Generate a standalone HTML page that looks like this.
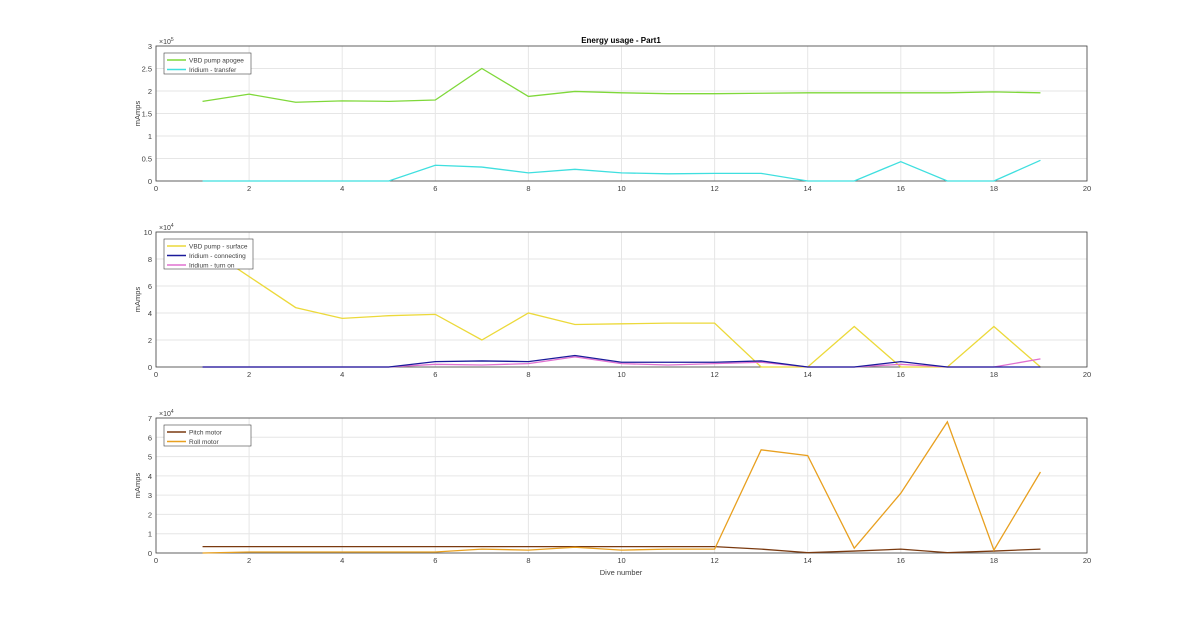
<!DOCTYPE html>
<html><head><meta charset="utf-8"><style>
body{margin:0;background:#fff;}
svg{display:block;font-family:"Liberation Sans",sans-serif;}
</style></head><body>
<svg id="c" width="1200" height="622"></svg>
<script>
const dives=[1,2,3,4,5,6,7,8,9,10,11,12,13,14,15,16,17,18,19];
const vbdApogee=[1.77,1.93,1.75,1.78,1.77,1.80,2.5,1.88,1.99,1.96,1.94,1.94,1.95,1.96,1.96,1.96,1.96,1.98,1.96];
const iridiumTransfer=[0,0,0,0,0,0.35,0.31,0.18,0.26,0.18,0.16,0.17,0.17,0,0,0.43,0,0,0.46];
const vbdSurface=[9,6.7,4.4,3.6,3.8,3.9,2.0,4.0,3.15,3.2,3.25,3.25,0,0,3.0,0,0,3.0,0];
const iridiumConnecting=[0,0,0,0,0,0.4,0.45,0.4,0.85,0.35,0.35,0.35,0.45,0,0,0.4,0,0,0];
const iridiumTurnOn=[0,0,0,0,0,0.2,0.15,0.25,0.75,0.25,0.15,0.25,0.35,0,0,0.2,0,0,0.6];
const pitchMotor=[0.33,0.33,0.33,0.33,0.33,0.33,0.33,0.33,0.33,0.33,0.33,0.33,0.2,0.02,0.1,0.2,0.02,0.1,0.2];
const rollMotor=[0,0.05,0.05,0.05,0.05,0.05,0.2,0.15,0.3,0.15,0.2,0.2,5.35,5.05,0.25,3.1,6.8,0.15,4.2];
const xTicks=[0,2,4,6,8,10,12,14,16,18,20];
const yTicks1=[0,0.5,1,1.5,2,2.5,3];
const yTicks2=[0,2,4,6,8,10];
const yTicks3=[0,1,2,3,4,5,6,7];

const NS="http://www.w3.org/2000/svg";
const svg=document.getElementById('c');
const X0=156,X1=1087;
const sx=v=>X0+(v-0)/20*(X1-X0);
function el(tag,attrs,parent){const e=document.createElementNS(NS,tag);for(const k in attrs)e.setAttribute(k,attrs[k]);(parent||svg).appendChild(e);return e;}
function txt(x,y,s,attrs){const t=el('text',Object.assign({x:x,y:y,'font-size':7.5,fill:'#404040'},attrs||{}));t.textContent=s;return t;}

function panel(name,top,bot,ymax,yt,exp,series,legendItems,legendH){
  const g=el('g',{});
  
  
  const sy=v=>bot-v/ymax*(bot-top);
  el('rect',{x:X0,y:top,width:X1-X0,height:bot-top,fill:'#fff'},g);
  xTicks.forEach(t=>{const l=el('line',{x1:sx(t),x2:sx(t),y1:top,y2:bot,stroke:'#e6e6e6','stroke-width':1},g);
    });
  yt.forEach(t=>{const l=el('line',{x1:X0,x2:X1,y1:sy(t),y2:sy(t),stroke:'#e6e6e6','stroke-width':1},g);
    });
  el('rect',{x:X0,y:top,width:X1-X0,height:bot-top,fill:'none',stroke:'#404040','stroke-width':0.8},g);
  xTicks.forEach(t=>{const s=txt(sx(t),bot+10,String(t),{'text-anchor':'middle'});g.appendChild(s);});
  yt.forEach(t=>{const s=txt(X0-4,sy(t)+3,String(t),{'text-anchor':'end'});g.appendChild(s);});
  const e=txt(X0+3,top-2,'\u00d710',{'font-size':7});
  const es=el('tspan',{dy:-3,'font-size':5});es.textContent=exp;e.appendChild(es);g.appendChild(e);
  const yl=txt(0,0,'mAmps',{'text-anchor':'middle',transform:`translate(${X0-16},${(top+bot)/2}) rotate(-90)`});
  g.appendChild(yl);
  series.forEach(([vals,col,nm])=>{
    const p=el('polyline',{points:dives.map((d,i)=>sx(d)+','+sy(vals[i])).join(' '),fill:'none',stroke:col,'stroke-width':1.3},g);
    
  });
  const lg=el('g',{},g);
  
  
  const w=series.length===3?89:legendItems[0][0].length>10?87:65;
  el('rect',{x:164,y:top+7,width:w,height:legendH,fill:'#fff',stroke:'#404040','stroke-width':0.6},lg);
  legendItems.forEach(([label,col],i)=>{
    const yy=top+14+i*9.5;
    el('line',{x1:167,x2:186,y1:yy,y2:yy,stroke:col,'stroke-width':1.5},lg);
    const t=txt(189,yy+2.5,label,{'font-size':6.5});lg.appendChild(t);
  });
}
const tl=txt(621,43,'Energy usage - Part1',{'text-anchor':'middle','font-weight':'bold','font-size':8,fill:'#000'});

panel('panel-top',46,181,3,yTicks1,'5',[[vbdApogee,'#7fd83a','line-vbd-apogee'],[iridiumTransfer,'#3fdfdf','line-iridium-transfer']],[['VBD pump apogee','#7fd83a'],['Iridium - transfer','#3fdfdf']],21);
panel('panel-middle',232,367,10,yTicks2,'4',[[vbdSurface,'#ecd93a','line-vbd-surface'],[iridiumTurnOn,'#e070d0','line-iridium-turn-on'],[iridiumConnecting,'#1a1a9a','line-iridium-connecting']],[['VBD pump - surface','#ecd93a'],['Iridium - connecting','#1a1a9a'],['Iridium - turn on','#e070d0']],30);
panel('panel-bottom',418,553,7,yTicks3,'4',[[pitchMotor,'#7a3a10','line-pitch-motor'],[rollMotor,'#e8a020','line-roll-motor']],[['Pitch motor','#7a3a10'],['Roll motor','#e8a020']],21);
const xl=txt(621,575,'Dive number',{'text-anchor':'middle'});

</script>
</body></html>
